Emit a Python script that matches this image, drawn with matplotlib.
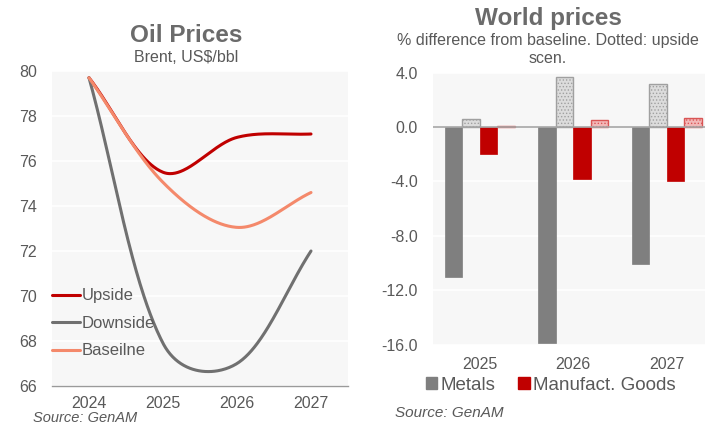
import numpy as np
import matplotlib
matplotlib.use('Agg')
import matplotlib.pyplot as plt
from matplotlib.ticker import FuncFormatter, MultipleLocator
from matplotlib.patches import Patch

plt.rcParams['font.family'] = ['Liberation Sans', 'DejaVu Sans']
plt.rcParams['hatch.linewidth'] = 0.6

# oil price scenarios, Brent US$/bbl
years = ['2024', '2025', '2026', '2027']
upside = [79.7, 75.5, 77.05, 77.2]
downside = [79.7, 67.9, 67.0, 72.0]
baseline = [79.7, 75.05, 73.05, 74.6]

# world prices, % difference from baseline
bar_years = ['2025', '2026', '2027']
metals = [-11.0, -15.85, -10.05]
metals_up = [0.6, 3.7, 3.15]
manuf = [-1.95, -3.8, -3.95]
manuf_up = [0.1, 0.55, 0.7]

TXT = '#595959'
TITLE = '#6b6b6b'
BG = '#f7f7f7'


def smooth(ax, xs, ys, n=80):
    # bezier smoothing in pixel space, handle length weighted by
    # sqrt of the neighbouring segment lengths
    pts = ax.transData.transform(np.column_stack([xs, ys]))
    k = len(pts)
    out = []
    t = np.linspace(0, 1, n)[:, None]
    for i in range(k - 1):
        p0 = pts[max(i - 1, 0)]
        p1 = pts[i]
        p2 = pts[i + 1]
        p3 = pts[min(i + 2, k - 1)]
        d01 = np.sqrt(np.hypot(*(p1 - p0)))
        d12 = np.sqrt(np.hypot(*(p2 - p1)))
        d23 = np.sqrt(np.hypot(*(p3 - p2)))
        c1 = p1 + (p2 - p0) * (d12 / (d01 + d12)) / 3
        c2 = p2 - (p3 - p1) * (d12 / (d12 + d23)) / 3
        seg = (1-t)**3*p1 + 3*(1-t)**2*t*c1 + 3*(1-t)*t**2*c2 + t**3*p2
        out.append(seg if i == 0 else seg[1:])
    xy = ax.transData.inverted().transform(np.vstack(out))
    return xy[:, 0], xy[:, 1]


fig = plt.figure(figsize=(7.05, 4.25), dpi=100)
W, H = 705, 425

# ---- oil prices -------------------------------------------------------
ax1 = fig.add_axes([52/W, 1 - 386/H, 296/W, 315/H])
ax1.set_facecolor(BG)
ax1.set_xlim(-0.5, 3.5)
ax1.set_ylim(66, 80)
ax1.yaxis.set_major_locator(MultipleLocator(2))
ax1.grid(axis='y', color='white', lw=1.2)
ax1.set_axisbelow(True)
for s in ['top', 'right', 'left']:
    ax1.spines[s].set_visible(False)
ax1.spines['bottom'].set_color('#9a9a9a')
ax1.spines['bottom'].set_linewidth(1.0)
ax1.set_xticks(range(len(years)))
ax1.set_xticklabels(years)
ax1.tick_params(axis='x', length=0, pad=7, labelsize=11.5, labelcolor=TXT)
ax1.tick_params(axis='y', length=0, pad=11, labelsize=11.5, labelcolor=TXT)

xi = np.arange(len(years))
for vals, col, lab in [(upside, '#c00000', 'Upside'),
                       (downside, '#707070', 'Downside'),
                       (baseline, '#f4896b', 'Baseilne')]:
    sx, sy = smooth(ax1, xi, vals)
    ax1.plot(sx, sy, color=col, lw=2.2, label=lab, solid_capstyle='round')

ax1.legend(loc='upper left', bbox_to_anchor=(0, 0.31), frameon=False,
           fontsize=12, handlelength=1.7, handletextpad=0.1,
           labelspacing=0.75, borderpad=0, borderaxespad=0, labelcolor=TXT)

fig.text(186/W, 1 - 42/H, 'Oil Prices', ha='center', va='baseline',
         fontsize=17.5, fontweight='bold', color=TITLE)
fig.text(186/W, 1 - 62/H, 'Brent, US$/bbl', ha='center', va='baseline',
         fontsize=11.5, color=TXT)
fig.text(33/W, 1 - 422/H, 'Source: GenAM', ha='left', va='baseline',
         fontsize=10.5, style='italic', color=TXT)

# ---- world prices -----------------------------------------------------
ax2 = fig.add_axes([433/W, 1 - 344.7/H, 280.5/W, 272/H])
ax2.set_facecolor(BG)
ax2.set_xlim(-0.5, 2.5)
ax2.set_ylim(-16, 4)
ax2.yaxis.set_major_locator(MultipleLocator(4))
ax2.yaxis.set_major_formatter(FuncFormatter(lambda v, p: '%.1f' % v))
ax2.grid(axis='y', color='white', lw=1.2)
ax2.set_axisbelow(True)
for s in ax2.spines.values():
    s.set_visible(False)
ax2.set_xticks(range(len(bar_years)))
ax2.set_xticklabels(bar_years)
ax2.tick_params(axis='x', length=0, pad=8.5, labelsize=11.5, labelcolor=TXT)
ax2.tick_params(axis='y', length=0, pad=11, labelsize=11.5, labelcolor=TXT)

bw = 0.187
bx = np.arange(len(bar_years))
ax2.bar(bx - 1.5*bw, metals, bw, color='#7f7f7f', edgecolor='#7f7f7f', lw=0.5, zorder=2)
ax2.bar(bx - 0.5*bw, metals_up, bw, color='#dcdcdc', edgecolor='#a0a0a0',
        hatch='.....', lw=1.0, zorder=2)
ax2.bar(bx + 0.5*bw, manuf, bw, color='#c00000', edgecolor='#c00000', lw=0.5, zorder=2)
ax2.bar(bx + 1.5*bw, manuf_up, bw, color='#f3b8b8', edgecolor='#d95555',
        hatch='.....', lw=1.0, zorder=2)
ax2.axhline(0, color='#a6a6a6', lw=1.2, zorder=3)

fig.legend(handles=[Patch(color='#7f7f7f', label='Metals'),
                    Patch(color='#c00000', label='Manufact. Goods')],
           loc='center', bbox_to_anchor=(551/W, 1 - 385/H), ncol=2,
           frameon=False, fontsize=13.5, handlelength=0.6, handleheight=0.6,
           handletextpad=0.2, columnspacing=1.2, borderpad=0, labelcolor=TXT)

fig.text(548/W, 1 - 25/H, 'World prices', ha='center', va='baseline',
         fontsize=17.5, fontweight='bold', color=TITLE)
fig.text(548/W, 1 - 45/H, '% difference from baseline. Dotted: upside',
         ha='center', va='baseline', fontsize=11.5, color=TXT)
fig.text(548/W, 1 - 63/H, 'scen.', ha='center', va='baseline',
         fontsize=11.5, color=TXT)
fig.text(395/W, 1 - 413/H, 'Source: GenAM', ha='left', va='center',
         fontsize=11, style='italic', color=TXT)

fig.savefig('out.png', dpi=100)
